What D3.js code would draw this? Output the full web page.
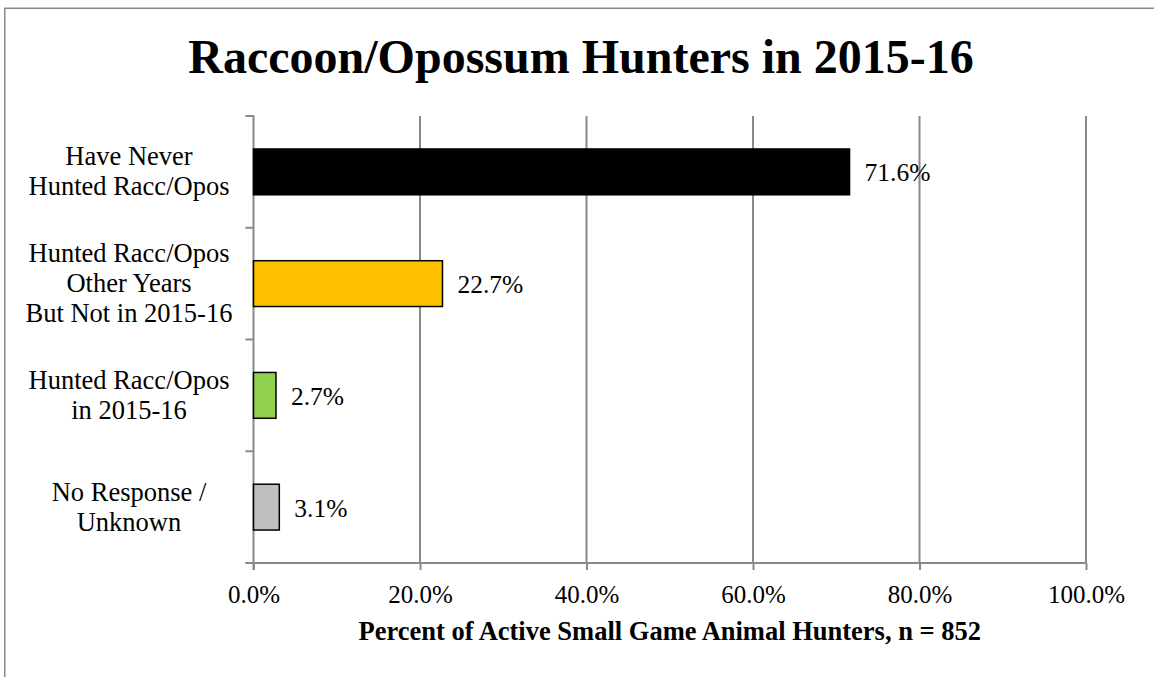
<!DOCTYPE html>
<html>
<head>
<meta charset="utf-8">
<script src="https://cdn.jsdelivr.net/npm/d3@7"></script>
<style>
  html, body { margin: 0; padding: 0; background: #fff; }
  svg { display: block; }
</style>
</head>
<body>
<script>
// ---- Data ----
const categories = [
  ["Have Never", "Hunted Racc/Opos"],
  ["Hunted Racc/Opos", "Other Years", "But Not in 2015-16"],
  ["Hunted Racc/Opos", "in 2015-16"],
  ["No Response /", "Unknown"]
];
const values = [71.6, 22.7, 2.7, 3.1];
const barColors = ["#000000", "#FFC000", "#92D050", "#BFBFBF"];
const xTicks = [0, 20, 40, 60, 80, 100];
const titleText = "Raccoon/Opossum Hunters in 2015-16";
const xAxisTitle = "Percent of Active Small Game Animal Hunters, n = 852";

// ---- Layout ----
const W = 1154, H = 677;
const plot = { left: 253.5, right: 1086, top: 116, bottom: 563 };
const gridColor = "#898989";
const font = "'Liberation Serif', 'Times New Roman', Times, serif";

const svg = d3.select("body").append("svg")
  .attr("width", W).attr("height", H);

svg.append("rect").attr("width", W).attr("height", H).attr("fill", "#fff");

// outer frame (extends beyond right/bottom edges)
svg.append("rect")
  .attr("x", 4.75).attr("y", 8.25)
  .attr("width", W + 20).attr("height", H + 20)
  .attr("fill", "none").attr("stroke", gridColor).attr("stroke-width", 1.5);

const x = d3.scaleLinear().domain([0, 100]).range([plot.left, plot.right]);
const idx = d3.range(categories.length);
const y = d3.scaleBand().domain(idx).range([plot.top, plot.bottom])
  .paddingInner(0.59).paddingOuter(0.295);
const yBound = d3.scaleBand().domain(idx).range([plot.top, plot.bottom]).padding(0);

// vertical gridlines
svg.append("g").selectAll("line").data(xTicks.filter(d => d > 0)).join("line")
  .attr("x1", d => x(d)).attr("x2", d => x(d))
  .attr("y1", plot.top).attr("y2", plot.bottom)
  .attr("stroke", gridColor).attr("stroke-width", 2);

// x axis
const xAxis = d3.axisBottom(x).tickValues(xTicks)
  .tickFormat(d => d.toFixed(1) + "%").tickSize(7).tickPadding(12);
const gx = svg.append("g").attr("transform", `translate(0,${plot.bottom})`).call(xAxis);
gx.select(".domain").remove();
gx.selectAll(".tick line").attr("stroke", gridColor).attr("stroke-width", 2);
gx.selectAll(".tick text")
  .attr("fill", "#000").attr("font-family", font).attr("font-size", 25)
  .attr("y", null).attr("dy", null).attr("transform", "translate(0,40)");
// x axis baseline (extends left to y tick length)
svg.append("line")
  .attr("x1", plot.left - 8).attr("x2", plot.right + 1)
  .attr("y1", plot.bottom).attr("y2", plot.bottom)
  .attr("stroke", gridColor).attr("stroke-width", 2);

// y axis line and category boundary ticks
svg.append("line")
  .attr("x1", plot.left).attr("x2", plot.left)
  .attr("y1", plot.top - 1).attr("y2", plot.bottom + 7)
  .attr("stroke", gridColor).attr("stroke-width", 2);
const bounds = idx.map(i => yBound(i)).concat([plot.bottom]);
svg.append("g").selectAll("line").data(bounds).join("line")
  .attr("x1", plot.left - 8).attr("x2", plot.left)
  .attr("y1", d => d).attr("y2", d => d)
  .attr("stroke", gridColor).attr("stroke-width", 2);

// bars
svg.append("g").selectAll("rect").data(idx).join("rect")
  .attr("x", x(0))
  .attr("y", i => y(i))
  .attr("width", i => x(values[i]) - x(0))
  .attr("height", y.bandwidth())
  .attr("fill", i => barColors[i])
  .attr("stroke", "#000").attr("stroke-width", 1.5);

// data labels
svg.append("g").selectAll("text").data(idx).join("text")
  .attr("x", i => x(values[i]) + 15)
  .attr("y", i => y(i) + y.bandwidth() / 2 + 9.5)
  .attr("font-family", font).attr("font-size", 25.5).attr("fill", "#000")
  .text(i => values[i].toFixed(1) + "%");

// category labels
const lineH = 30;
const catG = svg.append("g");
idx.forEach(i => {
  const lines = categories[i];
  const cy = yBound(i) + yBound.bandwidth() / 2;
  const t = catG.append("text")
    .attr("text-anchor", "middle")
    .attr("font-family", font).attr("font-size", 26.5).attr("fill", "#000");
  lines.forEach((ln, k) => {
    t.append("tspan")
      .attr("x", 129)
      .attr("y", cy + 8.5 + (k - (lines.length - 1) / 2) * lineH)
      .text(ln);
  });
});

// title
svg.append("text")
  .attr("x", 581).attr("y", 72.5)
  .attr("text-anchor", "middle")
  .attr("font-family", font).attr("font-weight", "bold").attr("font-size", 48)
  .attr("fill", "#000")
  .text(titleText);

// x axis title
svg.append("text")
  .attr("x", (plot.left + plot.right) / 2).attr("y", 640)
  .attr("text-anchor", "middle")
  .attr("font-family", font).attr("font-weight", "bold").attr("font-size", 26.5)
  .attr("fill", "#000")
  .text(xAxisTitle);
</script>
</body>
</html>
